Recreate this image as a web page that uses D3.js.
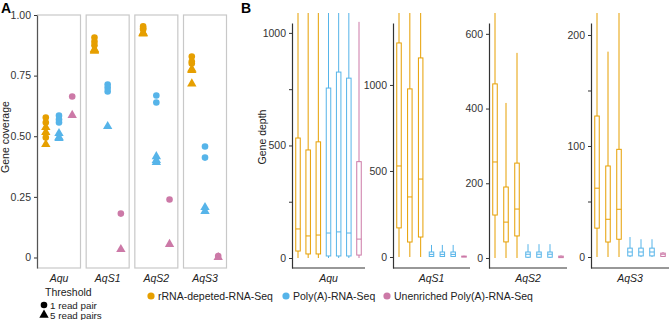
<!DOCTYPE html>
<html>
<head>
<meta charset="utf-8">
<script src="https://cdn.jsdelivr.net/npm/d3@7"></script>
<style>
  body { margin: 0; background: #fff; }
  svg { font-family: "Liberation Sans", Arial, sans-serif; }
  .tick text { font-size: 10.5px; fill: #333; }
  .tick line { stroke: #333; }
  .label { font-size: 10.5px; fill: #222; }
  .small { font-size: 9.8px; fill: #222; }
  .strip { font-size: 10.5px; font-style: italic; fill: #222; }
  .tag { font-size: 14px; font-weight: bold; }
</style>
</head>
<body>
<svg width="669" height="320"></svg>
<script>
// **** data ****
const facets = ['Aqu', 'AqS1', 'AqS2', 'AqS3'];
const methods = ['rRNA-depeted-RNA-Seq', 'Poly(A)-RNA-Seq', 'Unenriched Poly(A)-RNA-Seq'];
const methodColors = ['#E69F00', '#56B4E9', '#CC79A7'];
const thresholds = ['1 read pair', '5 read pairs'];

// gene coverage, threshold 1 read pair: facet -> method -> replicates
const coverageOnePair = [
  [[0.577, 0.557, 0.495], [0.585, 0.569, 0.557], [0.664]],
  [[0.907, 0.89, 0.875], [0.713, 0.70, 0.685], [0.181]],
  [[0.953, 0.945, 0.94], [0.668, 0.639], [0.239]],
  [[0.829, 0.808, 0.80], [0.458, 0.412], [0.006]]
];
// gene coverage, threshold 5 read pairs
const coverageFivePairs = [
  [[0.54, 0.52, 0.47], [0.515, 0.499, 0.495], [0.59]],
  [[0.862, 0.858, 0.855], [0.544], [0.037]],
  [[0.93, 0.928, 0.926], [0.42, 0.404, 0.396], [0.058]],
  [[0.78, 0.775, 0.72], [0.21, 0.194], [0.004]]
];

// gene depth boxes: [lower whisker, q1, median, q3, upper whisker]
const boxMethod = [0, 0, 0, 1, 1, 1, 2];
const depthAqu = [
  [0, 31, 129, 533, 1500], [0, 18, 98, 480, 1500], [0, 18, 102, 516, 1500],
  [0, 9, 111, 755, 1500], [0, 9, 116, 826, 1500], [0, 9, 111, 799, 1500],
  [0, 13, 84, 428, 1049]
];
const depthAqS1 = [
  [0, 169, 529, 1244, 2000], [0, 87, 349, 977, 2000], [0, 116, 453, 1157, 2000],
  [0, 3, 15, 29, 70], [0, 3, 15, 29, 70], [0, 3, 15, 29, 70],
  [0, 1, 3, 5, 8]
];
const depthAqS2 = [
  [0, 115, 257, 466, 900], [0, 43, 96, 190, 415], [0, 59, 131, 254, 549],
  [0, 2, 10, 16, 37], [0, 2, 10, 16, 37], [0, 2, 10, 16, 37],
  [0, 1, 3, 5, 7]
];
const depthAqS3 = [
  [0, 26, 62, 127, 300], [0, 13.5, 34, 82, 185], [0, 16, 43, 97, 300],
  [0, 1, 4.5, 8, 18], [0, 1, 4.5, 8, 16], [0, 1, 4.5, 8, 16],
  [0, 0.5, 2.5, 3.5, 4.5]
];
const depthData = [depthAqu, depthAqS1, depthAqS2, depthAqS3];
const depthDomains = [[-44.4, 1044], [-64, 1360], [-26.8, 629], [-9.9, 210.8]];
const depthTicks = [[0, 250, 500, 750, 1000], [0, 500, 1000], [0, 200, 400, 600], [0, 50, 100, 150, 200]];
const depthLabels = [[0, 500, 1000], [0, 500, 1000], [0, 200, 400, 600], [0, 100, 200]];

var svg = d3.select('svg');

// **** panel A ****
var covY = d3.scaleLinear().domain([-0.0433, 1]).range([268, 15]);
var facetX = d3.scaleBand().domain(facets).range([37, 227]).paddingInner(0.096);
var dodgeX = d3.scalePoint().domain(methods)
    .range([facetX.bandwidth() * 0.2, facetX.bandwidth() * 0.8]);

svg.append('text').attr('class', 'tag').attr('x', 1).attr('y', 13).text('A');

facets.forEach((f, fi) => {
    const g = svg.append('g').attr('transform', `translate(${facetX(f)},0)`);
    g.append('rect')
        .attr('x', 0.5).attr('y', covY(1))
        .attr('width', facetX.bandwidth() - 1).attr('height', covY.range()[0] - covY(1))
        .style('fill', 'none').style('stroke', '#c8c8c8').style('stroke-width', 1.2);

    methods.forEach((m, mi) => {
        coverageOnePair[fi][mi].forEach((v) => {
            g.append('circle')
                .attr('cx', dodgeX(m)).attr('cy', covY(v)).attr('r', 3.3)
                .style('fill', methodColors[mi]);
        });
        coverageFivePairs[fi][mi].forEach((v) => {
            g.append('path')
                .attr('d', d3.symbol(d3.symbolTriangle, 38)())
                .attr('transform', `translate(${dodgeX(m)},${covY(v) + 0.8})`)
                .style('fill', methodColors[mi]);
        });
    });

    svg.append('text').attr('class', 'strip')
        .attr('x', facetX(f) + facetX.bandwidth() / 2).attr('y', 282)
        .attr('text-anchor', 'middle').text(f);
});

svg.append('g').attr('class', 'y axis')
    .attr('transform', 'translate(37,0)')
    .call(d3.axisLeft(covY).tickValues([0, 0.25, 0.5, 0.75, 1]).tickSize(3).tickSizeOuter(0)
        .tickFormat(d => d === 0 ? '0' : d3.format('.2f')(d)))
    .call(g => g.select('.domain').style('stroke', '#555').style('stroke-width', 1.2));

svg.append('text').attr('class', 'label')
    .attr('transform', 'translate(9,137) rotate(-90)')
    .attr('text-anchor', 'middle').text('Gene coverage');

// **** panel B ****
const depthPanels = [[292, 365], [393, 470], [489, 567], [591, 669]];

svg.append('defs').append('clipPath').attr('id', 'topclip')
    .append('rect').attr('x', 0).attr('y', 13).attr('width', 669).attr('height', 307);

svg.append('text').attr('class', 'tag').attr('x', 241).attr('y', 13).text('B');

facets.forEach((f, fi) => {
    const [left, right] = depthPanels[fi];
    const y = d3.scaleLinear().domain(depthDomains[fi]).range([268, 23]);
    const x = d3.scalePoint().domain(d3.range(7)).range([left + 6, right - 6]);
    const bw = 4.5;

    const g = svg.append('g').attr('clip-path', 'url(#topclip)');
    depthData[fi].forEach((b, i) => {
        const col = methodColors[boxMethod[i]];
        const cx = x(i);
        g.append('line').attr('x1', cx).attr('x2', cx).attr('y1', y(b[3])).attr('y2', y(b[4]))
            .style('stroke', col).style('stroke-width', 1);
        g.append('line').attr('x1', cx).attr('x2', cx).attr('y1', y(b[0])).attr('y2', y(b[1]))
            .style('stroke', col).style('stroke-width', 1);
        g.append('rect').attr('x', cx - bw / 2).attr('y', y(b[3]))
            .attr('width', bw).attr('height', Math.max(y(b[1]) - y(b[3]), 1))
            .style('fill', 'none').style('stroke', col).style('stroke-width', 1);
        g.append('line').attr('x1', cx - bw / 2).attr('x2', cx + bw / 2)
            .attr('y1', y(b[2])).attr('y2', y(b[2]))
            .style('stroke', col).style('stroke-width', 1);
    });

    svg.append('g').attr('class', 'y axis')
        .attr('transform', `translate(${left},0)`)
        .call(d3.axisLeft(y).tickValues(depthTicks[fi]).tickSize(3).tickSizeOuter(0)
            .tickFormat(d => depthLabels[fi].includes(d) ? d : ''))
        .call(g => g.select('.domain').style('stroke', '#333').style('stroke-width', 1.2));

    svg.append('line').attr('x1', left).attr('x2', right).attr('y1', 268).attr('y2', 268)
        .style('stroke', '#333').style('stroke-width', 1.2);

    svg.append('text').attr('class', 'strip')
        .attr('x', (left + right) / 2).attr('y', 282)
        .attr('text-anchor', 'middle').text(f);
});

svg.append('text').attr('class', 'label')
    .attr('transform', 'translate(266,137) rotate(-90)')
    .attr('text-anchor', 'middle').text('Gene depth');

// **** legends ****
svg.append('text').attr('class', 'label').attr('x', 45).attr('y', 296).text('Threshold');
const thrLegend = svg.append('g');
thrLegend.append('circle').attr('cx', 44).attr('cy', 305).attr('r', 3.3).style('fill', '#000');
thrLegend.append('path').attr('d', d3.symbol(d3.symbolTriangle, 38)())
    .attr('transform', 'translate(44,315)').style('fill', '#000');
thresholds.forEach((t, i) => {
    thrLegend.append('text').attr('class', 'small')
        .attr('x', 50).attr('y', 308.5 + i * 10).text(t);
});

const legendX = [151, 286, 387];
methods.forEach((m, i) => {
    svg.append('circle').attr('cx', legendX[i]).attr('cy', 296).attr('r', 3.6)
        .style('fill', methodColors[i]);
    svg.append('text').attr('class', 'label')
        .attr('x', legendX[i] + 7).attr('y', 299.5).text(m);
});
</script>
</body>
</html>
